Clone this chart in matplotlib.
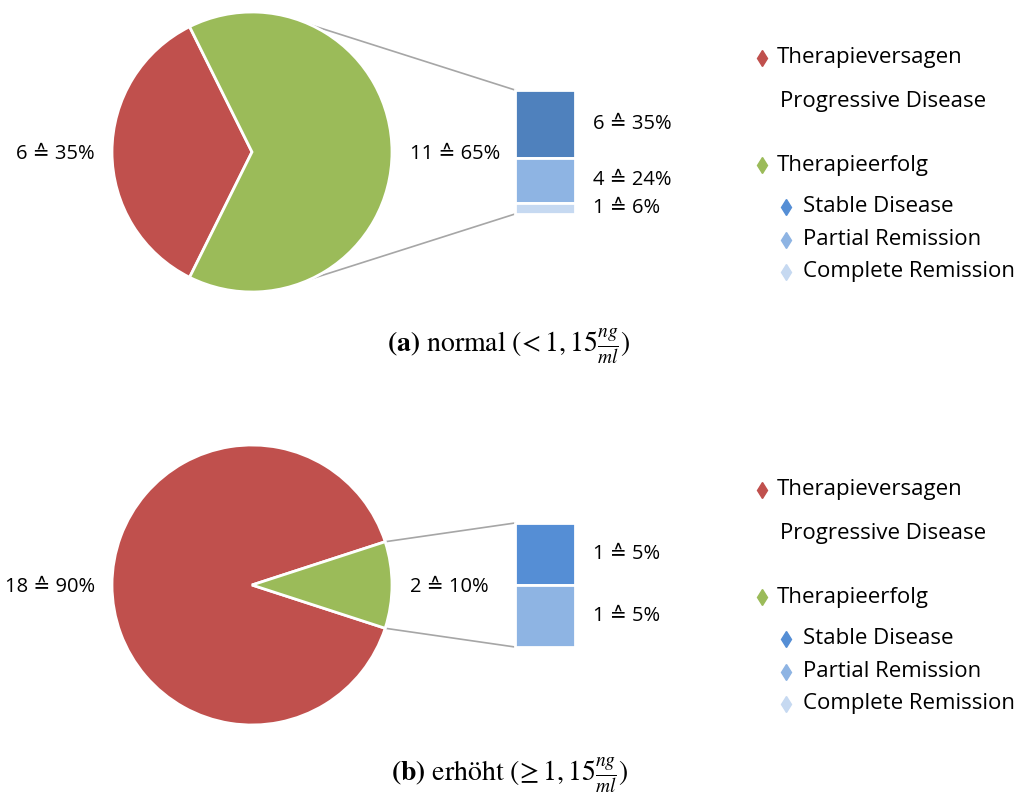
# %% Modules

import numpy as np
import matplotlib.pyplot as plt

# %% Data

main_labels = ["Therapieversagen", "Therapieerfolg"]
sub_labels = ["Stable Disease", "Partial Remission", "Complete Remission"]

# normal (< 1,15 ng/ml)
main_a = [6, 11]
sub_a = [6, 4, 1]

# erhoeht (>= 1,15 ng/ml)
main_b = [18, 2]
sub_b = [1, 1, 0]

captions = [
    r"$\mathbf{(a)}$ normal $(\!< 1, 15\frac{ng}{ml})$",
    r"$\mathbf{(b)}$ erhöht $(\!\geq 1, 15\frac{ng}{ml})$",
]

# %% Style

red = "#C0504D"
green = "#9BBB59"
sub_colors_a = ["#4F81BD", "#8EB4E3", "#C6D9F1"]
sub_colors_b = ["#558ED5", "#8EB4E3", "#C6D9F1"]
legend_sub_colors = ["#558ED5", "#8EB4E3", "#C6D9F1"]
line_gray = "#A6A6A6"

label_font = ["Open Sans", "DejaVu Sans"]
label_size = 14.5
legend_size = 16

plt.rcParams["mathtext.fontset"] = "stix"

W, H = 1024, 796
fig = plt.figure(figsize=(W / 100, H / 100), dpi=100)
ax = fig.add_axes([0, 0, 1, 1])


def draw_panel(ax, main, sub, sub_colors, cy, link_angle):
    """Pie of pie: left pie for main groups, stacked bar for the Therapieerfolg split"""
    total = sum(main)
    cx, r = 252, 140

    # red wedge centred on the left, green wedge centred on the right
    start = 180 - 360 * main[0] / total / 2
    ax.pie(main, colors=[red, green], startangle=start, counterclock=True,
           center=(cx, cy), radius=r, frame=True,
           wedgeprops=dict(edgecolor="white", linewidth=2))

    # value labels next to the pie
    ax.text(95, cy - 2, f"{main[0]} \u2259 {round(100 * main[0] / total)}%",
            ha="right", va="center", fontsize=label_size, family=label_font)
    ax.text(410, cy - 2, f"{main[1]} \u2259 {round(100 * main[1] / total)}%",
            ha="left", va="center", fontsize=label_size, family=label_font)

    # stacked bar, fixed height of 124 px
    bar_top = cy + 62
    bar_x = 545
    scale = 124 / sum(sub)
    top = bar_top
    for n, c in zip(sub, sub_colors):
        if n == 0:
            continue
        h = n * scale
        ax.bar(bar_x, h, bottom=top - h, width=60, color=c,
               edgecolor="white", linewidth=2)
        ax.text(593, top - h / 2, f"{n} \u2259 {round(100 * n / total)}%",
                ha="left", va="center", fontsize=label_size, family=label_font)
        top -= h

    # connector lines from the pie to the bar corners
    a = np.radians(link_angle)
    ax.plot([cx + r * np.cos(a), bar_x - 30], [cy + r * np.sin(a), bar_top],
            color=line_gray, linewidth=1.2, zorder=0)
    ax.plot([cx + r * np.cos(a), bar_x - 30], [cy - r * np.sin(a), bar_top - 124],
            color=line_gray, linewidth=1.2, zorder=0)


def draw_legend(ax, y0):
    ms = 8
    ax.plot(762, y0, marker="d", markersize=ms, color=red, linestyle="none")
    ax.text(777, y0, main_labels[0], ha="left", va="center",
            fontsize=legend_size, family=label_font)
    ax.text(780, y0 - 43, "Progressive Disease", ha="left", va="center",
            fontsize=legend_size, family=label_font)
    ax.plot(762, y0 - 107, marker="d", markersize=ms, color=green, linestyle="none")
    ax.text(777, y0 - 107, main_labels[1], ha="left", va="center",
            fontsize=legend_size, family=label_font)
    for i, (lab, c) in enumerate(zip(sub_labels, legend_sub_colors)):
        yy = y0 - 149 - 32.5 * i
        ax.plot(786, yy, marker="d", markersize=ms, color=c, linestyle="none")
        ax.text(803, yy, lab, ha="left", va="center",
                fontsize=legend_size, family=label_font)


# %% Panels

draw_panel(ax, main_a, sub_a, sub_colors_a, H - 152, 65)
draw_panel(ax, main_b, sub_b, sub_colors_b, H - 585, 18)

draw_legend(ax, H - 58)
draw_legend(ax, H - 490)

ax.text(509, H - 346, captions[0], ha="center", va="center", fontsize=20,
        family="STIXGeneral")
ax.text(509, H - 775, captions[1], ha="center", va="center", fontsize=20,
        family="STIXGeneral")

ax.set_xlim(0, W)
ax.set_ylim(0, H)
ax.set_aspect("equal")
ax.axis("off")

plt.savefig("out.png", dpi=100)
